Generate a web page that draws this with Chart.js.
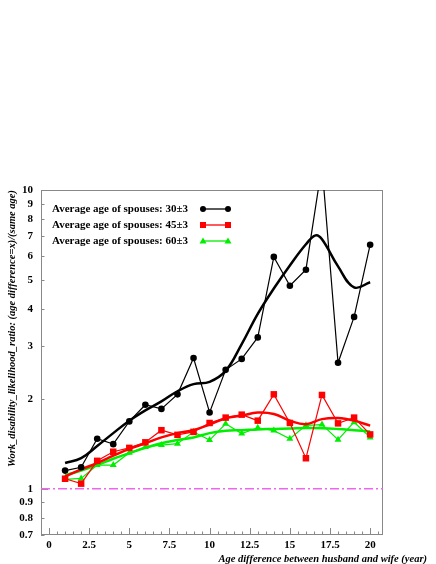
<!DOCTYPE html>
<html>
<head>
<meta charset="utf-8">
<script src="https://cdn.jsdelivr.net/npm/chart.js@4.4.0/dist/chart.umd.min.js"></script>
<style>
  body { margin: 0; background: #fff; }
  canvas { display: block; }
</style>
</head>
<body>
<canvas id="myChart" width="436" height="564"></canvas>
<script>
// age difference (x)
const edades = [1, 2, 3, 4, 5, 6, 7, 8, 9, 10, 11, 12, 13, 14, 15, 16, 17, 18, 19, 20];

// measured ratios
const ratio30 = [1.15, 1.18, 1.47, 1.41, 1.68, 1.91, 1.85, 2.07, 2.74, 1.80, 2.50, 2.72, 3.21, 5.97, 4.78, 5.41, 12.1, 2.64, 3.76, 6.56];
const ratio45 = [1.08, 1.04, 1.24, 1.33, 1.37, 1.43, 1.57, 1.515, 1.55, 1.66, 1.73, 1.77, 1.69, 2.07, 1.66, 1.265, 2.06, 1.655, 1.73, 1.52];
const ratio60 = [1.075, 1.083, 1.20, 1.20, 1.32, 1.38, 1.40, 1.415, 1.55, 1.455, 1.65, 1.53, 1.60, 1.565, 1.47, 1.63, 1.64, 1.46, 1.67, 1.485];

// smooth fits
const xAjuste30 = [1, 2, 3, 4, 5, 6, 7, 8, 9, 10, 11, 12, 13, 14, 15, 16, 16.6, 17, 18, 19, 20];
const ajuste30 = [1.22, 1.265, 1.39, 1.535, 1.69, 1.83, 1.96, 2.12, 2.24, 2.28, 2.48, 3.05, 3.85, 4.68, 5.59, 6.58, 7.05, 6.84, 5.55, 4.72, 4.91];
const ajuste45 = [1.10, 1.16, 1.22, 1.29, 1.36, 1.42, 1.485, 1.535, 1.57, 1.64, 1.72, 1.757, 1.80, 1.78, 1.69, 1.645, 1.71, 1.725, 1.69, 1.626];
const ajuste60 = [1.11, 1.15, 1.20, 1.26, 1.315, 1.37, 1.42, 1.455, 1.485, 1.535, 1.563, 1.57, 1.58, 1.585, 1.59, 1.596, 1.595, 1.585, 1.57, 1.555];

// reference line and axes
const referencia = 1;
const xMin = -0.5;
const xMax = 20.8;
const xTicks = [0, 2.5, 5, 7.5, 10, 12.5, 15, 17.5, 20];
const yTicks = [0.7, 0.8, 0.9, 1, 2, 3, 4, 5, 6, 7, 8, 9, 10];

const etiquetas = [
  "Average age of spouses: 30\u00b13",
  "Average age of spouses: 45\u00b13",
  "Average age of spouses: 60\u00b13",
];

const tituloX = "Age difference between husband and wife (year)";
const tituloY = "Work_disability_likelihood_ratio: (age difference=x)/(same age)";

const serif = "'Liberation Serif', 'DejaVu Serif', serif";
const fuenteTicks = { family: serif, size: 11, weight: "bold" };

const pares = (xs, ys) => ys.map((y, i) => ({ x: xs[i], y }));

// frame, ticks, titles and legend
const marco = {
  id: "marco",
  beforeDatasetsDraw(chart) {
    const { ctx, chartArea: a, scales } = chart;
    ctx.save();
    ctx.strokeStyle = "#888";
    ctx.lineWidth = 1;
    ctx.strokeRect(a.left + 0.5, a.top + 0.5, a.right - a.left - 1, a.bottom - a.top - 1);
    ctx.beginPath();
    for (let v = 0; v <= 20.5; v += 0.5) {
      const px = Math.round(scales.x.getPixelForValue(v)) + 0.5;
      const largo = v % 2.5 === 0 ? 7 : 3.5;
      ctx.moveTo(px, a.bottom);
      ctx.lineTo(px, a.bottom - largo);
    }
    yTicks.forEach((v) => {
      const py = Math.round(scales.y.getPixelForValue(v)) + 0.5;
      const largo = v === 1 || v === 10 ? 7 : 3.5;
      ctx.moveTo(a.left, py);
      ctx.lineTo(a.left + largo, py);
    });
    ctx.stroke();
    ctx.restore();
  },
  afterDraw(chart) {
    const { ctx } = chart;
    ctx.save();
    ctx.fillStyle = "#000";
    ctx.font = `italic bold 10.5px ${serif}`;
    ctx.textAlign = "right";
    ctx.textBaseline = "alphabetic";
    ctx.fillText(tituloX, 427, 562);
    ctx.translate(15, 190);
    ctx.rotate(-Math.PI / 2);
    ctx.fillText(tituloY, 0, 0);
    ctx.restore();

    // legend
    const filas = [209, 225, 241];
    const colores = ["#000", "#ff0000", "#00ee00"];
    ctx.save();
    ctx.font = `bold 11px ${serif}`;
    ctx.textBaseline = "middle";
    ctx.textAlign = "left";
    filas.forEach((y, i) => {
      ctx.fillStyle = "#000";
      ctx.fillText(etiquetas[i], 52, y);
      ctx.strokeStyle = colores[i];
      ctx.fillStyle = colores[i];
      ctx.lineWidth = 1.3;
      ctx.beginPath();
      ctx.moveTo(203, y);
      ctx.lineTo(228, y);
      ctx.stroke();
      [203, 228].forEach((x) => {
        ctx.beginPath();
        if (i === 0) {
          ctx.arc(x, y, 3, 0, Math.PI * 2);
        } else if (i === 1) {
          ctx.rect(x - 3, y - 3, 6, 6);
        } else {
          ctx.moveTo(x, y - 3.5);
          ctx.lineTo(x + 3.5, y + 2.5);
          ctx.lineTo(x - 3.5, y + 2.5);
          ctx.closePath();
        }
        ctx.fill();
      });
    });
    ctx.restore();
  },
};

const ctx = document.getElementById("myChart");
const myChart = new Chart(ctx, {
  type: "line",
  data: {
    datasets: [
      {
        label: "fit30",
        data: pares(xAjuste30, ajuste30),
        borderColor: "#000",
        borderWidth: 2.5,
        pointRadius: 0,
        tension: 0.4,
      },
      {
        label: etiquetas[0],
        data: pares(edades, ratio30),
        borderColor: "#000",
        borderWidth: 1.2,
        pointStyle: "circle",
        pointRadius: 3.3,
        pointBackgroundColor: "#000",
        pointBorderWidth: 0,
      },
      {
        label: "fit45",
        data: pares(edades, ajuste45),
        borderColor: "#ff0000",
        borderWidth: 2.5,
        pointRadius: 0,
        tension: 0.4,
      },
      {
        label: etiquetas[1],
        data: pares(edades, ratio45),
        borderColor: "#ff0000",
        borderWidth: 1.2,
        pointStyle: "rect",
        pointRadius: 4.6,
        pointBackgroundColor: "#ff0000",
        pointBorderWidth: 0,
      },
      {
        label: "fit60",
        data: pares(edades, ajuste60),
        borderColor: "#00ee00",
        borderWidth: 2.5,
        pointRadius: 0,
        tension: 0.4,
      },
      {
        label: etiquetas[2],
        data: pares(edades, ratio60),
        borderColor: "#00ee00",
        borderWidth: 1.2,
        pointStyle: "triangle",
        pointRadius: 4,
        pointBackgroundColor: "#00ee00",
        pointBorderWidth: 0,
      },
      {
        label: "ref",
        data: [{ x: xMin, y: referencia }, { x: xMax, y: referencia }],
        borderColor: "#ee66ee",
        borderWidth: 1.5,
        borderDash: [9, 3, 2, 3],
        pointRadius: 0,
      },
    ],
  },
  options: {
    responsive: false,
    animation: false,
    devicePixelRatio: 1,
    layout: { padding: { top: 190, right: 53, left: 0, bottom: 0 } },
    plugins: {
      legend: { display: false },
      tooltip: { enabled: false },
    },
    scales: {
      x: {
        type: "linear",
        min: xMin,
        max: xMax,
        afterBuildTicks: (scale) => {
          scale.ticks = xTicks.map((v) => ({ value: v }));
        },
        afterFit: (scale) => {
          scale.height = 29;
        },
        grid: { display: false, tickLength: 0 },
        border: { display: false },
        ticks: {
          color: "#000",
          font: fuenteTicks,
          padding: 4,
          maxRotation: 0,
          autoSkip: false,
          callback: (v) => String(v),
        },
      },
      y: {
        type: "logarithmic",
        min: 0.7,
        max: 10,
        afterBuildTicks: (scale) => {
          scale.ticks = yTicks.map((v) => ({ value: v }));
        },
        afterFit: (scale) => {
          scale.width = 41;
        },
        grid: { display: false, tickLength: 0 },
        border: { display: false },
        ticks: {
          color: "#000",
          font: fuenteTicks,
          padding: 8,
          autoSkip: false,
          callback: (v) => String(v),
        },
      },
    },
  },
  plugins: [marco],
});
</script>
</body>
</html>
